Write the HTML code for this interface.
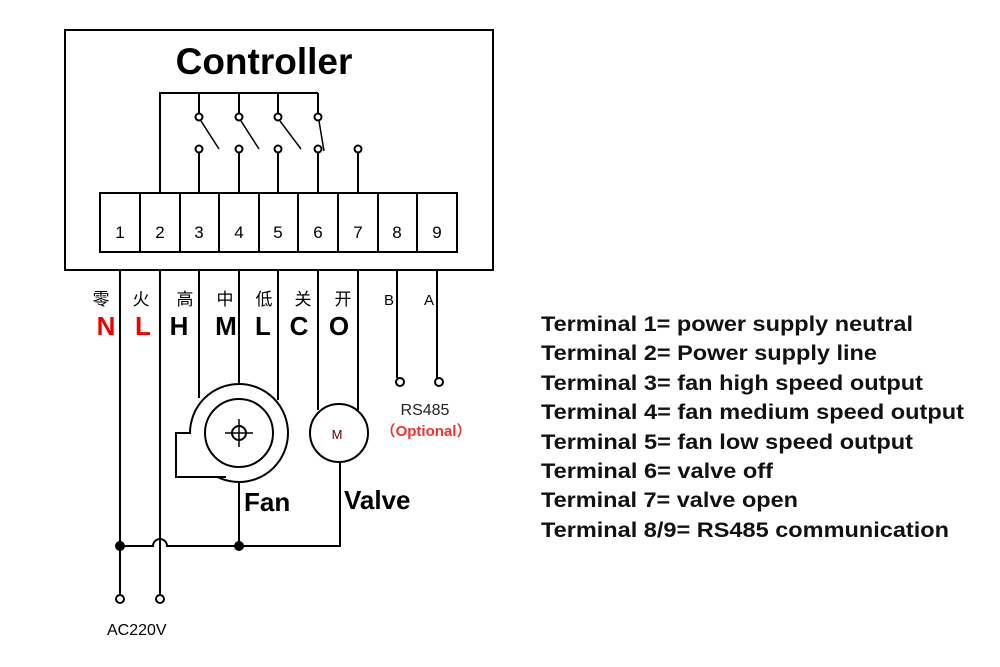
<!DOCTYPE html>
<html><head><meta charset="utf-8"><style>body{margin:0;background:#fff}svg{display:block}</style></head><body>
<svg width="1000" height="667" viewBox="0 0 1000 667" xmlns="http://www.w3.org/2000/svg" font-family="Liberation Sans, Noto Sans CJK SC, sans-serif">
<g fill="none" stroke="#000" stroke-width="2">
<rect x="65" y="30" width="428" height="240"/>
<rect x="100" y="193" width="357" height="59"/>
<path d="M140 193V252M180 193V252M219 193V252M259 193V252M298 193V252M338 193V252M378 193V252M417 193V252"/>
<path d="M160 193V93H318M199 93V113M239 93V113M278 93V113M318 93V113"/>
<path d="M199 153V193M239 153V193M278 153V193M318 153V193M358 153V193"/>
<path d="M201 121L219 149M241 121L259 149M280 121L301 149M319 121L324 151" stroke-width="1.5"/>
<circle cx="199" cy="117" r="3.5"/><circle cx="239" cy="117" r="3.5"/><circle cx="278" cy="117" r="3.5"/><circle cx="318" cy="117" r="3.5"/>
<circle cx="199" cy="149" r="3.5"/><circle cx="239" cy="149" r="3.5"/><circle cx="278" cy="149" r="3.5"/><circle cx="318" cy="149" r="3.5"/><circle cx="358" cy="149" r="3.5"/>
<path d="M120 270V595M160 270V595M199 270V398M239 270V384M278 270V400M318 270V410M358 270V410M397 270V378M437 270V378"/>
<circle cx="120" cy="599" r="4"/><circle cx="160" cy="599" r="4"/><circle cx="400" cy="382" r="4"/><circle cx="439" cy="382" r="4"/>
<circle cx="239" cy="433" r="49"/>
<rect x="177" y="434" width="48" height="44" stroke="none" fill="#fff"/>
<path d="M190 433H176V477H226"/>
<circle cx="239" cy="433" r="34"/><circle cx="239" cy="433" r="7"/>
<path d="M225 433H253M239 419V447" stroke-width="1.5"/>
<path d="M239 482V546M120 546H153A7 7 0 0 1 167 546H340V462"/>
<circle cx="339" cy="433" r="29"/>
</g>
<circle cx="120" cy="546" r="5"/><circle cx="239" cy="546" r="5"/>
<text x="264" y="74" text-anchor="middle" font-weight="bold" font-size="37">Controller</text>
<g font-size="17" text-anchor="middle"><text x="120" y="238">1</text><text x="160" y="238">2</text><text x="199" y="238">3</text><text x="239" y="238">4</text><text x="278" y="238">5</text><text x="318" y="238">6</text><text x="358" y="238">7</text><text x="397" y="238">8</text><text x="437" y="238">9</text></g>
<g font-size="17" text-anchor="middle"><text x="101" y="305">零</text><text x="141" y="305">火</text><text x="185" y="305">高</text><text x="225" y="305">中</text><text x="264" y="305">低</text><text x="303" y="305">关</text><text x="343" y="305">开</text><text x="389" y="305" font-size="15">B</text><text x="429" y="305" font-size="15">A</text></g>
<g font-size="26" font-weight="bold" text-anchor="middle"><text x="106" y="335" fill="#e00">N</text><text x="143" y="335" fill="#e00">L</text><text x="179" y="335">H</text><text x="226" y="335">M</text><text x="263" y="335">L</text><text x="299" y="335">C</text><text x="339" y="335">O</text></g>
<text x="337" y="439" font-size="13" text-anchor="middle" fill="#600">M</text>
<text x="425" y="415" font-size="16" text-anchor="middle" fill="#222">RS485</text>
<text x="426" y="436" font-size="15" font-weight="bold" text-anchor="middle" fill="#e33">（Optional）</text>
<text x="244" y="511" font-size="26" font-weight="bold">Fan</text>
<text x="344" y="509" font-size="26" font-weight="bold">Valve</text>
<text x="107" y="635" font-size="16">AC220V</text>
<g font-size="21" font-weight="bold" fill="#111">
<text x="541" y="331" textLength="372" lengthAdjust="spacingAndGlyphs">Terminal 1= power supply neutral</text>
<text x="541" y="360" textLength="336" lengthAdjust="spacingAndGlyphs">Terminal 2= Power supply line</text>
<text x="541" y="390" textLength="382" lengthAdjust="spacingAndGlyphs">Terminal 3= fan high speed output</text>
<text x="541" y="419" textLength="423" lengthAdjust="spacingAndGlyphs">Terminal 4= fan medium speed output</text>
<text x="541" y="449" textLength="372" lengthAdjust="spacingAndGlyphs">Terminal 5= fan low speed output</text>
<text x="541" y="478" textLength="232" lengthAdjust="spacingAndGlyphs">Terminal 6= valve off</text>
<text x="541" y="507" textLength="257" lengthAdjust="spacingAndGlyphs">Terminal 7= valve open</text>
<text x="541" y="537" textLength="408" lengthAdjust="spacingAndGlyphs">Terminal 8/9= RS485 communication</text>
</g>
</svg>
</body></html>
